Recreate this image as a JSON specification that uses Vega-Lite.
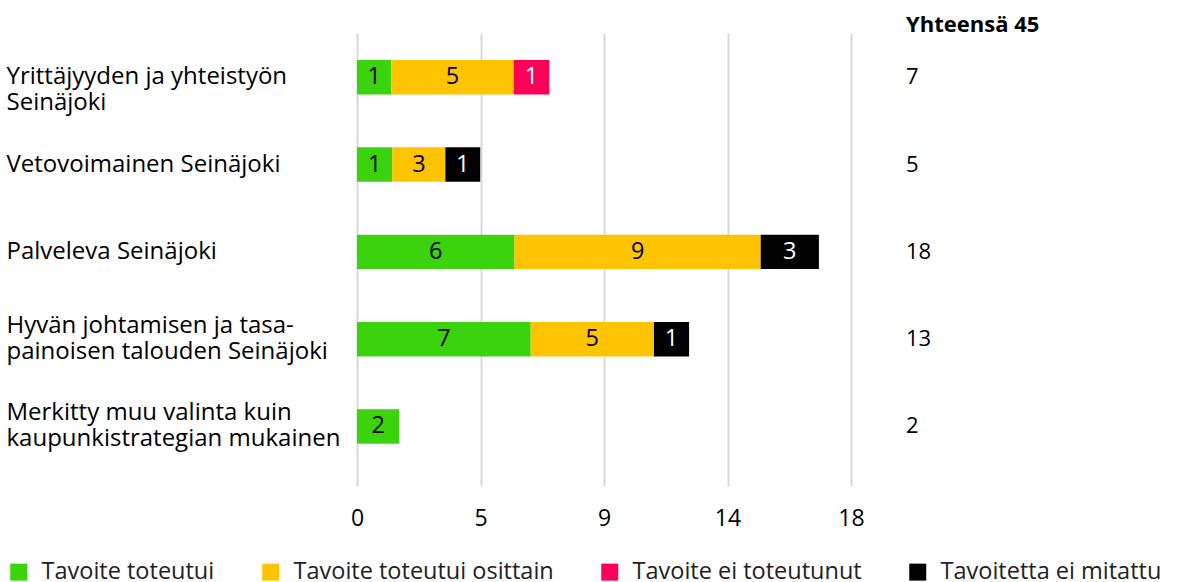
{
  "$schema": "https://vega.github.io/schema/vega-lite/v6.json",
  "width": 494,
  "height": 453,
  "autosize": {"type": "none"},
  "padding": {"left": 357, "top": 33, "right": 326, "bottom": 96},
  "background": "white",
  "config": {"font": "Open Sans", "view": {"stroke": null}},
  "title": {"text": "Yhteensä 45", "anchor": "start", "frame": "group", "dx": 549, "dy": 22, "fontSize": 22, "fontWeight": "bold", "font": "Open Sans", "color": "#000000", "baseline": "middle", "offset": 8},
  "data": {"values": [
    {"cat": "Yrittäjyyden ja yhteistyön\nSeinäjoki", "status": "Tavoite toteutui", "k": 1, "v": 1.25, "n": 1},
    {"cat": "Yrittäjyyden ja yhteistyön\nSeinäjoki", "status": "Tavoite toteutui osittain", "k": 2, "v": 4.46, "n": 5},
    {"cat": "Yrittäjyyden ja yhteistyön\nSeinäjoki", "status": "Tavoite ei toteutunut", "k": 3, "v": 1.30, "n": 1},
    {"cat": "Vetovoimainen Seinäjoki", "status": "Tavoite toteutui", "k": 1, "v": 1.29, "n": 1},
    {"cat": "Vetovoimainen Seinäjoki", "status": "Tavoite toteutui osittain", "k": 2, "v": 1.93, "n": 3},
    {"cat": "Vetovoimainen Seinäjoki", "status": "Tavoitetta ei mitattu", "k": 4, "v": 1.27, "n": 1},
    {"cat": "Palveleva Seinäjoki", "status": "Tavoite toteutui", "k": 1, "v": 5.74, "n": 6},
    {"cat": "Palveleva Seinäjoki", "status": "Tavoite toteutui osittain", "k": 2, "v": 8.97, "n": 9},
    {"cat": "Palveleva Seinäjoki", "status": "Tavoitetta ei mitattu", "k": 4, "v": 2.12, "n": 3},
    {"cat": "Hyvän johtamisen ja tasa-\npainoisen talouden Seinäjoki", "status": "Tavoite toteutui", "k": 1, "v": 6.33, "n": 7},
    {"cat": "Hyvän johtamisen ja tasa-\npainoisen talouden Seinäjoki", "status": "Tavoite toteutui osittain", "k": 2, "v": 4.49, "n": 5},
    {"cat": "Hyvän johtamisen ja tasa-\npainoisen talouden Seinäjoki", "status": "Tavoitetta ei mitattu", "k": 4, "v": 1.28, "n": 1},
    {"cat": "Merkitty muu valinta kuin\nkaupunkistrategian mukainen", "status": "Tavoite toteutui", "k": 1, "v": 1.54, "n": 2}
  ]},
  "layer": [
    {
      "mark": {"type": "bar"},
      "encoding": {
        "y": {"field": "cat", "type": "nominal", "sort": null,
          "scale": {"paddingInner": 0.605, "paddingOuter": 0.397, "align": 0.39, "round": false},
          "axis": {"title": null, "domain": false, "ticks": false, "tickSize": 0, "grid": false, "labelAlign": "left", "labelPadding": 351, "labelLimit": 400, "labelFontSize": 24, "labelColor": "#000000", "labelBaseline": "middle", "labelLineHeight": 26,
            "labelOffset": {"condition": {"test": "indexof(datum.value, 'Hyvän') === 0 || indexof(datum.value, 'Merkitty') === 0", "value": -13}, "value": 0},
            "labelExpr": "split(datum.value, '\\n')"}},
        "x": {"field": "v", "type": "quantitative", "stack": "zero",
          "scale": {"domain": [0, 18], "nice": false, "zero": true},
          "axis": {"title": null, "values": [0, 4.5, 9, 13.5, 18], "labelExpr": "round(datum.value)", "grid": true, "gridColor": "#D9D9D9", "gridWidth": 2, "domain": false, "ticks": false, "tickSize": 0, "labelFontSize": 23, "labelColor": "#000000", "labelPadding": 32, "labelBaseline": "middle", "labelFlush": false}},
        "color": {"field": "status", "type": "nominal",
          "scale": {"domain": ["Tavoite toteutui", "Tavoite toteutui osittain", "Tavoite ei toteutunut", "Tavoitetta ei mitattu"], "range": ["#3BD30E", "#FFC400", "#FF0059", "#000000"]},
          "legend": {"orient": "none", "legendX": -350, "legendY": 527, "direction": "horizontal", "columns": 4, "title": null, "symbolType": "square", "symbolSize": 289, "symbolStrokeWidth": 0, "symbolOpacity": 1, "labelFontSize": 23.5, "labelColor": "#222222", "columnPadding": 44, "labelOffset": 11, "labelLimit": 400}},
        "order": {"field": "k", "type": "quantitative"}
      }
    },
    {
      "mark": {"type": "text", "fontSize": 23.5, "baseline": "middle", "align": "center"},
      "encoding": {
        "y": {"field": "cat", "type": "nominal", "sort": null},
        "x": {"field": "v", "type": "quantitative", "stack": "zero", "bandPosition": 0.5},
        "detail": {"field": "status"},
        "order": {"field": "k", "type": "quantitative"},
        "text": {"field": "n", "type": "quantitative"},
        "color": {"condition": {"test": "datum.status === 'Tavoite ei toteutunut' || datum.status === 'Tavoitetta ei mitattu'", "value": "#FFFFFF"}, "value": "#000000"}
      }
    },
    {
      "mark": {"type": "text", "align": "left", "baseline": "middle", "fontSize": 22, "color": "#000000"},
      "encoding": {
        "y": {"field": "cat", "type": "nominal", "sort": null},
        "x": {"datum": 20},
        "text": {"aggregate": "sum", "field": "n", "type": "quantitative"}
      }
    }
  ]
}
